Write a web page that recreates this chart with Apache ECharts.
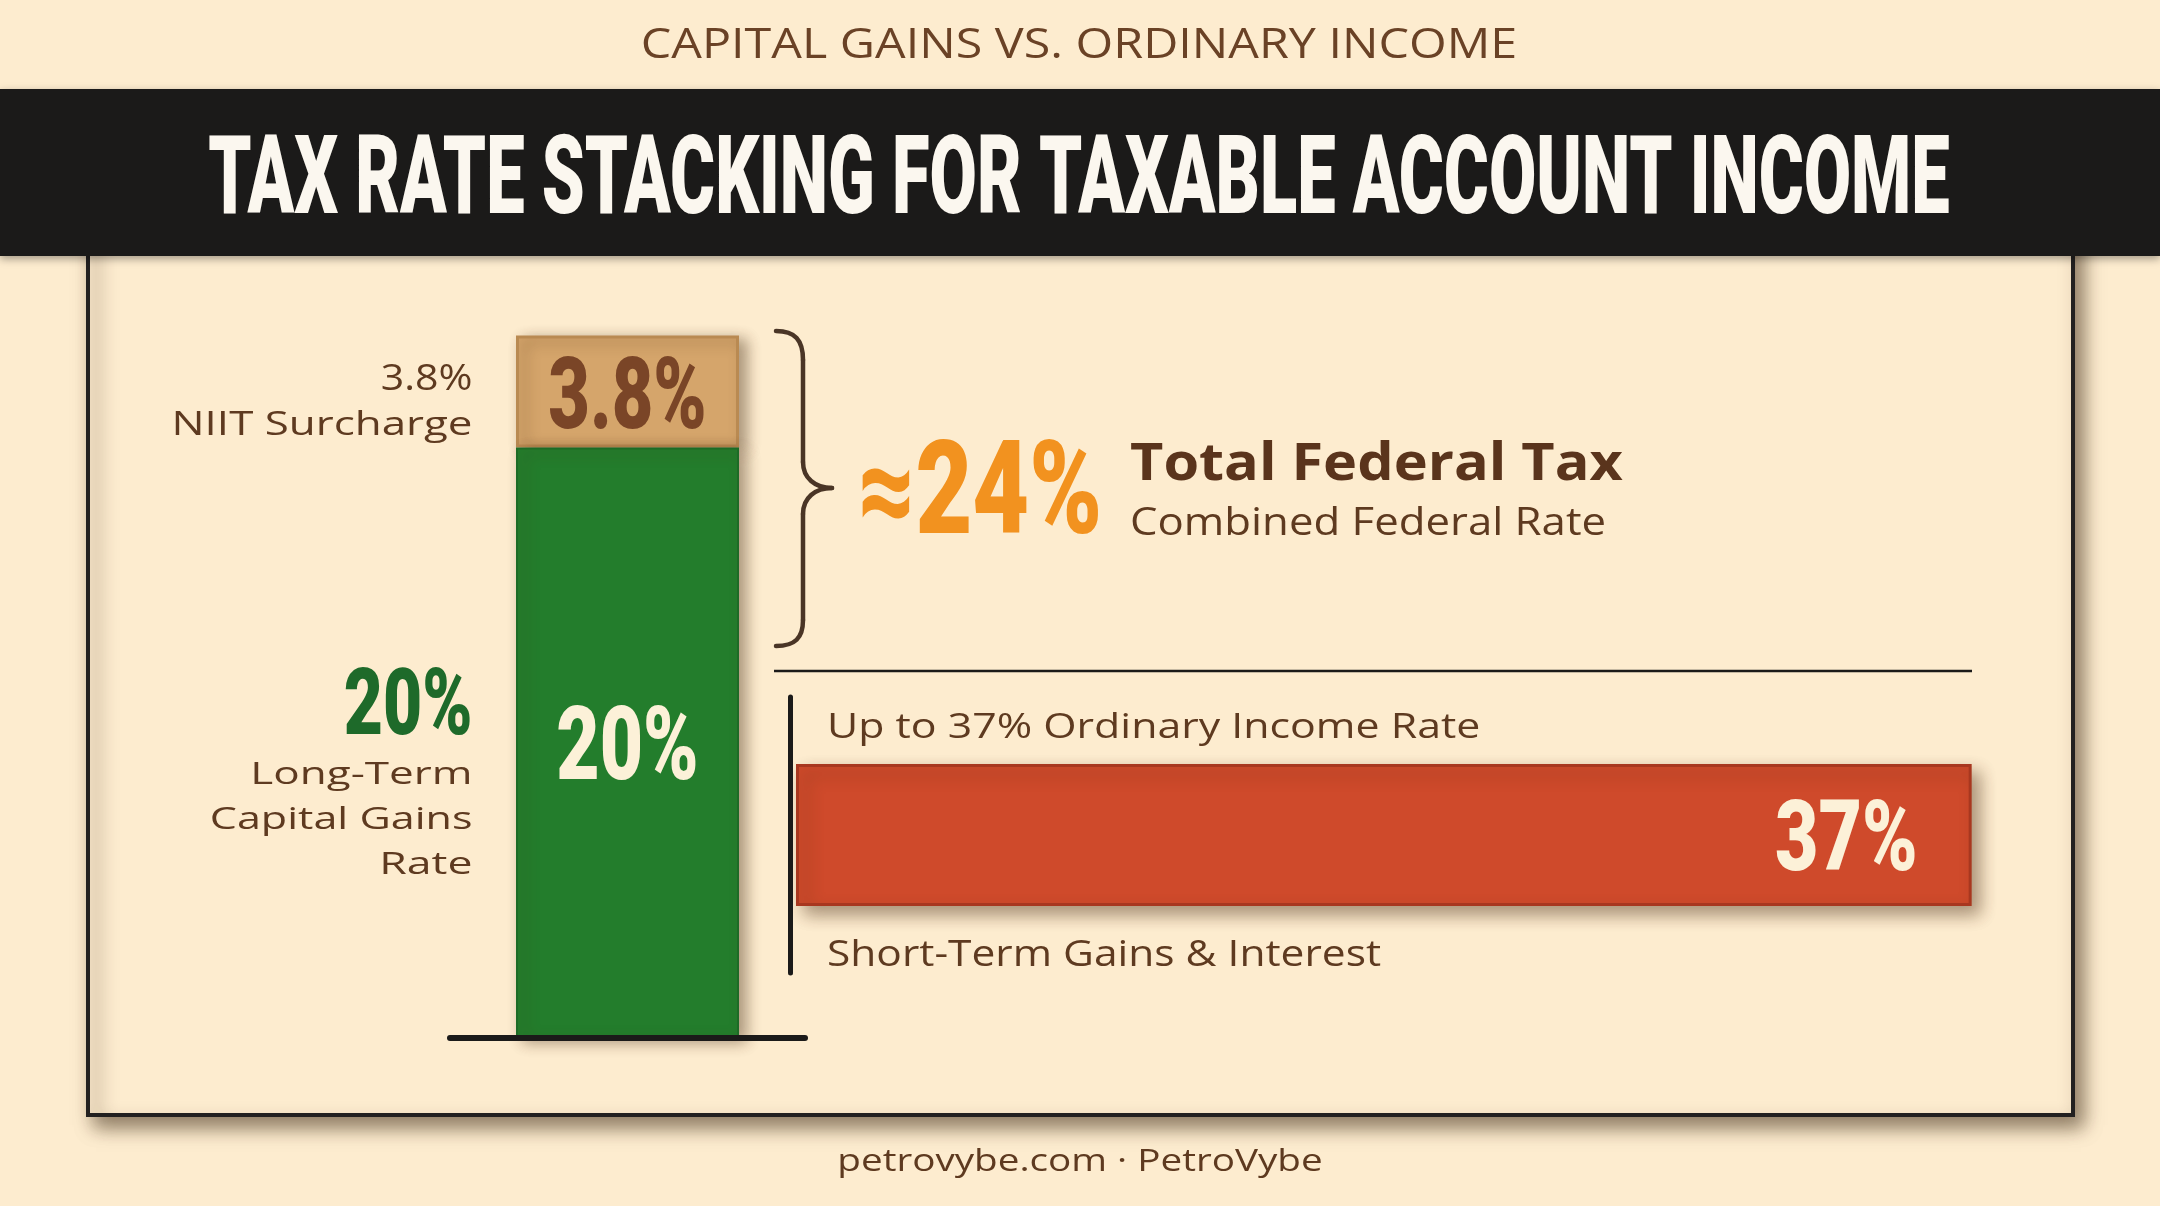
<!DOCTYPE html>
<html>
<head>
<meta charset="utf-8">
<script src="https://cdn.jsdelivr.net/npm/echarts@6/dist/echarts.min.js"></script>
<style>
html,body{margin:0;padding:0;background:#FDECCF;}
#c{width:2160px;height:1206px;}
</style>
</head>
<body>
<div id="c"></div>
<script>
// ---------------- DATA ----------------
const subtitleText = 'CAPITAL GAINS VS. ORDINARY INCOME';
const titleText = 'TAX RATE STACKING FOR TAXABLE ACCOUNT INCOME';
const stackCategories = ['Taxable Account Income'];
const ltcgRate = [20];
const niitRate = [3.8];
const ordinaryCategories = ['Short-Term Gains & Interest'];
const ordinaryRate = [37];
const totalFederalApprox = 24;
const niitLabel = 'NIIT Surcharge';
const ltcgLabelLines = ['Long-Term', 'Capital Gains', 'Rate'];
const totalTitle = 'Total Federal Tax';
const totalSub = 'Combined Federal Rate';
const ordinaryTopLabel = 'Up to ' + ordinaryRate[0] + '% Ordinary Income Rate';
const ordinaryBottomLabel = 'Short-Term Gains & Interest';
const footerText = 'petrovybe.com \u00B7 PetroVybe';

// ---------------- STYLE ----------------
const BG = '#FDECCF';
const DARK = '#1B1A19';
const BROWN = '#5E3A20';
const GREEN = '#237D2C';
const DKGREEN = '#1E6A2A';
const TAN = '#D5A56B';
const TANTEXT = '#7A4527';
const RED = '#CF4A2B';
const CREAM = '#FCF1D8';
const ORANGE = '#F2921F';
const COND = 'Roboto, "Liberation Sans", sans-serif';
const BODY = '"Open Sans", "Noto Sans", sans-serif';

const chart = echarts.init(document.getElementById('c'), null, {renderer: 'canvas'});

const option = {
  backgroundColor: BG,
  animation: false,
  grid: [
    {left: 450, width: 355, top: 300, height: 738},
    {left: 796, width: 1271, top: 697, height: 276}
  ],
  xAxis: [
    {gridIndex: 0, type: 'category', data: stackCategories, z: 10,
     axisLine: {show: true, onZero: false, lineStyle: {color: DARK, width: 6}},
     axisTick: {show: false}, axisLabel: {show: false}, splitLine: {show: false}},
    {gridIndex: 1, type: 'value', min: 0, max: 40, show: false}
  ],
  yAxis: [
    {gridIndex: 0, type: 'value', min: 0, max: 25, show: false},
    {gridIndex: 1, type: 'category', data: ordinaryCategories, position: 'left', offset: 6, z: 10,
     axisLine: {show: true, onZero: false, lineStyle: {color: DARK, width: 5}},
     axisTick: {show: false}, axisLabel: {show: false}, splitLine: {show: false}}
  ],
  series: [
    {type: 'bar', name: 'Long-Term Capital Gains', xAxisIndex: 0, yAxisIndex: 0, stack: 'federal',
     data: ltcgRate, barWidth: 223, z: 3, silent: true,
     itemStyle: {color: GREEN, borderColor: '#1D6B26', borderWidth: 2,
       shadowBlur: 14, shadowOffsetX: 7, shadowOffsetY: 4, shadowColor: 'rgba(70,45,20,0.45)'}},
    {type: 'bar', name: 'NIIT Surcharge', xAxisIndex: 0, yAxisIndex: 0, stack: 'federal',
     data: niitRate, barWidth: 223, z: 2, silent: true,
     itemStyle: {color: TAN, borderColor: '#B98A52', borderWidth: 3,
       shadowBlur: 14, shadowOffsetX: 7, shadowOffsetY: 4, shadowColor: 'rgba(70,45,20,0.45)'}},
    {type: 'bar', name: 'Ordinary Income', xAxisIndex: 1, yAxisIndex: 1,
     data: ordinaryRate, barWidth: 142, z: 2, silent: true,
     itemStyle: {color: RED, borderColor: '#A8371F', borderWidth: 3,
       shadowBlur: 16, shadowOffsetX: 8, shadowOffsetY: 8, shadowColor: 'rgba(70,40,15,0.45)'}}
  ]
};
chart.setOption(option);

// --------------- text helper (fits font to cap height & ink width) ---------------
const mctx = document.createElement('canvas').getContext('2d');
function makeText(str, o) {
  mctx.textBaseline = 'alphabetic';
  mctx.font = o.weight + ' 100px ' + o.family;
  const capRef = mctx.measureText('H').actualBoundingBoxAscent || 71;
  const size = o.capH / capRef * 100;
  const font = o.weight + ' ' + size.toFixed(2) + 'px ' + o.family;
  mctx.font = font;
  mctx.textBaseline = 'middle';
  const mh = mctx.measureText('H');
  const y = o.cy - o.capH / 2 + mh.actualBoundingBoxAscent;
  const m = mctx.measureText(str);
  const ink = (m.actualBoundingBoxLeft + m.actualBoundingBoxRight) || m.width;
  const sx = o.w ? o.w / ink : 1;
  return {
    type: 'text', x: o.x, y: y, scaleX: sx, scaleY: 1, originX: 0, originY: 0, z: 20, silent: true,
    style: {text: str, font: font, fill: o.color, textAlign: o.align, align: o.align,
            textVerticalAlign: 'middle', verticalAlign: 'middle'}
  };
}

// pixel anchors from the library's scales
const cat0 = stackCategories[0];
const pZero = chart.convertToPixel({xAxisIndex: 0, yAxisIndex: 0}, [cat0, 0]);
const pGreen = chart.convertToPixel({xAxisIndex: 0, yAxisIndex: 0}, [cat0, ltcgRate[0]]);
const pTotal = chart.convertToPixel({xAxisIndex: 0, yAxisIndex: 0}, [cat0, ltcgRate[0] + niitRate[0]]);
const cx = pZero[0];
const yTan = (pGreen[1] + pTotal[1]) / 2;
const yGrn = (pGreen[1] + pZero[1]) / 2;
const pOrdStart = chart.convertToPixel({xAxisIndex: 1, yAxisIndex: 1}, [0, ordinaryCategories[0]]);
const pOrdEnd = chart.convertToPixel({xAxisIndex: 1, yAxisIndex: 1}, [ordinaryRate[0], ordinaryCategories[0]]);
const yOrd = pOrdEnd[1];

const labelRight = cx - 155;
const texts = [
  makeText(subtitleText, {family: BODY, weight: 'normal', capH: 30, x: 1079, cy: 43, w: 872, align: 'center', color: '#6A4226'}),
  makeText(titleText, {family: COND, weight: '900', capH: 79, x: 1079, cy: 173.5, w: 1740, align: 'center', color: '#FBF7EF'}),
  makeText(niitRate[0] + '%', {family: BODY, weight: 'normal', capH: 26, x: labelRight, cy: yTan - 14.5, w: 89, align: 'right', color: BROWN}),
  makeText(niitLabel, {family: BODY, weight: 'normal', capH: 24, x: labelRight, cy: yTan + 31.5, w: 295, align: 'right', color: BROWN}),
  makeText(ltcgRate[0] + '%', {family: COND, weight: '900', capH: 67, x: labelRight, cy: yGrn - 42.5, w: 125, align: 'right', color: DKGREEN}),
  makeText(ltcgLabelLines[0], {family: BODY, weight: 'normal', capH: 23, x: labelRight, cy: yGrn + 30.5, w: 215, align: 'right', color: BROWN}),
  makeText(ltcgLabelLines[1], {family: BODY, weight: 'normal', capH: 23, x: labelRight, cy: yGrn + 75.5, w: 260, align: 'right', color: BROWN}),
  makeText(ltcgLabelLines[2], {family: BODY, weight: 'normal', capH: 23, x: labelRight, cy: yGrn + 120.5, w: 88, align: 'right', color: BROWN}),
  makeText(niitRate[0] + '%', {family: COND, weight: '900', capH: 72, x: cx, cy: yTan, w: 154, align: 'center', color: TANTEXT}),
  makeText(ltcgRate[0] + '%', {family: COND, weight: '900', capH: 74, x: cx, cy: yGrn, w: 137, align: 'center', color: CREAM}),
  makeText('\u2248' + totalFederalApprox + '%', {family: COND, weight: '900', capH: 93, x: 858, cy: 486.5, w: 236, align: 'left', color: ORANGE}),
  makeText(totalTitle, {family: BODY, weight: 'bold', capH: 37, x: 1130, cy: 461.5, w: 492, align: 'left', color: '#5A341C'}),
  makeText(totalSub, {family: BODY, weight: 'normal', capH: 28, x: 1130, cy: 521, w: 472, align: 'left', color: BROWN}),
  makeText(ordinaryTopLabel, {family: BODY, weight: 'normal', capH: 25, x: pOrdStart[0] + 31, cy: yOrd - 109.5, w: 648, align: 'left', color: BROWN}),
  makeText(ordinaryRate[0] + '%', {family: COND, weight: '900', capH: 71, x: pOrdEnd[0] - 54, cy: yOrd, w: 138, align: 'right', color: CREAM}),
  makeText(ordinaryBottomLabel, {family: BODY, weight: 'normal', capH: 26, x: pOrdStart[0] + 31, cy: yOrd + 118, w: 552, align: 'left', color: BROWN}),
  makeText(footerText, {family: BODY, weight: 'normal', capH: 23, x: 1080, cy: 1160.5, w: 482, align: 'center', color: BROWN})
];

const BR = {stroke: '#4A3526', lineWidth: 4.5, fill: null, lineCap: 'round'};
const shapes = [
  {type: 'rect', z: 0, silent: true, shape: {x: 88, y: 220, width: 1985, height: 895},
   style: {fill: BG, stroke: '#222020', lineWidth: 4, shadowBlur: 18, shadowOffsetX: 8, shadowOffsetY: 10,
           shadowColor: 'rgba(50,30,10,0.55)'}},
  {type: 'rect', z: 1, silent: true, shape: {x: 0, y: 89, width: 2160, height: 167},
   style: {fill: DARK, shadowBlur: 8, shadowOffsetY: 3, shadowColor: 'rgba(0,0,0,0.35)'}},
  {type: 'line', z: 5, silent: true, shape: {x1: 774, y1: 671, x2: 1972, y2: 671},
   style: {stroke: DARK, lineWidth: 2.5}},
  // curly bracket
  {type: 'bezierCurve', z: 5, silent: true, shape: {x1: 776, y1: 331, cpx1: 795, cpy1: 331, cpx2: 803, cpy2: 340, x2: 803, y2: 360}, style: BR},
  {type: 'line', z: 5, silent: true, shape: {x1: 803, y1: 360, x2: 803, y2: 462}, style: BR},
  {type: 'bezierCurve', z: 5, silent: true, shape: {x1: 803, y1: 462, cpx1: 803, cpy1: 478, cpx2: 815, cpy2: 488, x2: 832, y2: 488}, style: BR},
  {type: 'bezierCurve', z: 5, silent: true, shape: {x1: 832, y1: 488, cpx1: 815, cpy1: 488, cpx2: 803, cpy2: 498, x2: 803, y2: 514}, style: BR},
  {type: 'line', z: 5, silent: true, shape: {x1: 803, y1: 514, x2: 803, y2: 620}, style: BR},
  {type: 'bezierCurve', z: 5, silent: true, shape: {x1: 803, y1: 620, cpx1: 803, cpy1: 638, cpx2: 795, cpy2: 646, x2: 776, y2: 646}, style: BR}
];

chart.setOption({graphic: {elements: shapes.concat(texts)}});
</script>
</body>
</html>
